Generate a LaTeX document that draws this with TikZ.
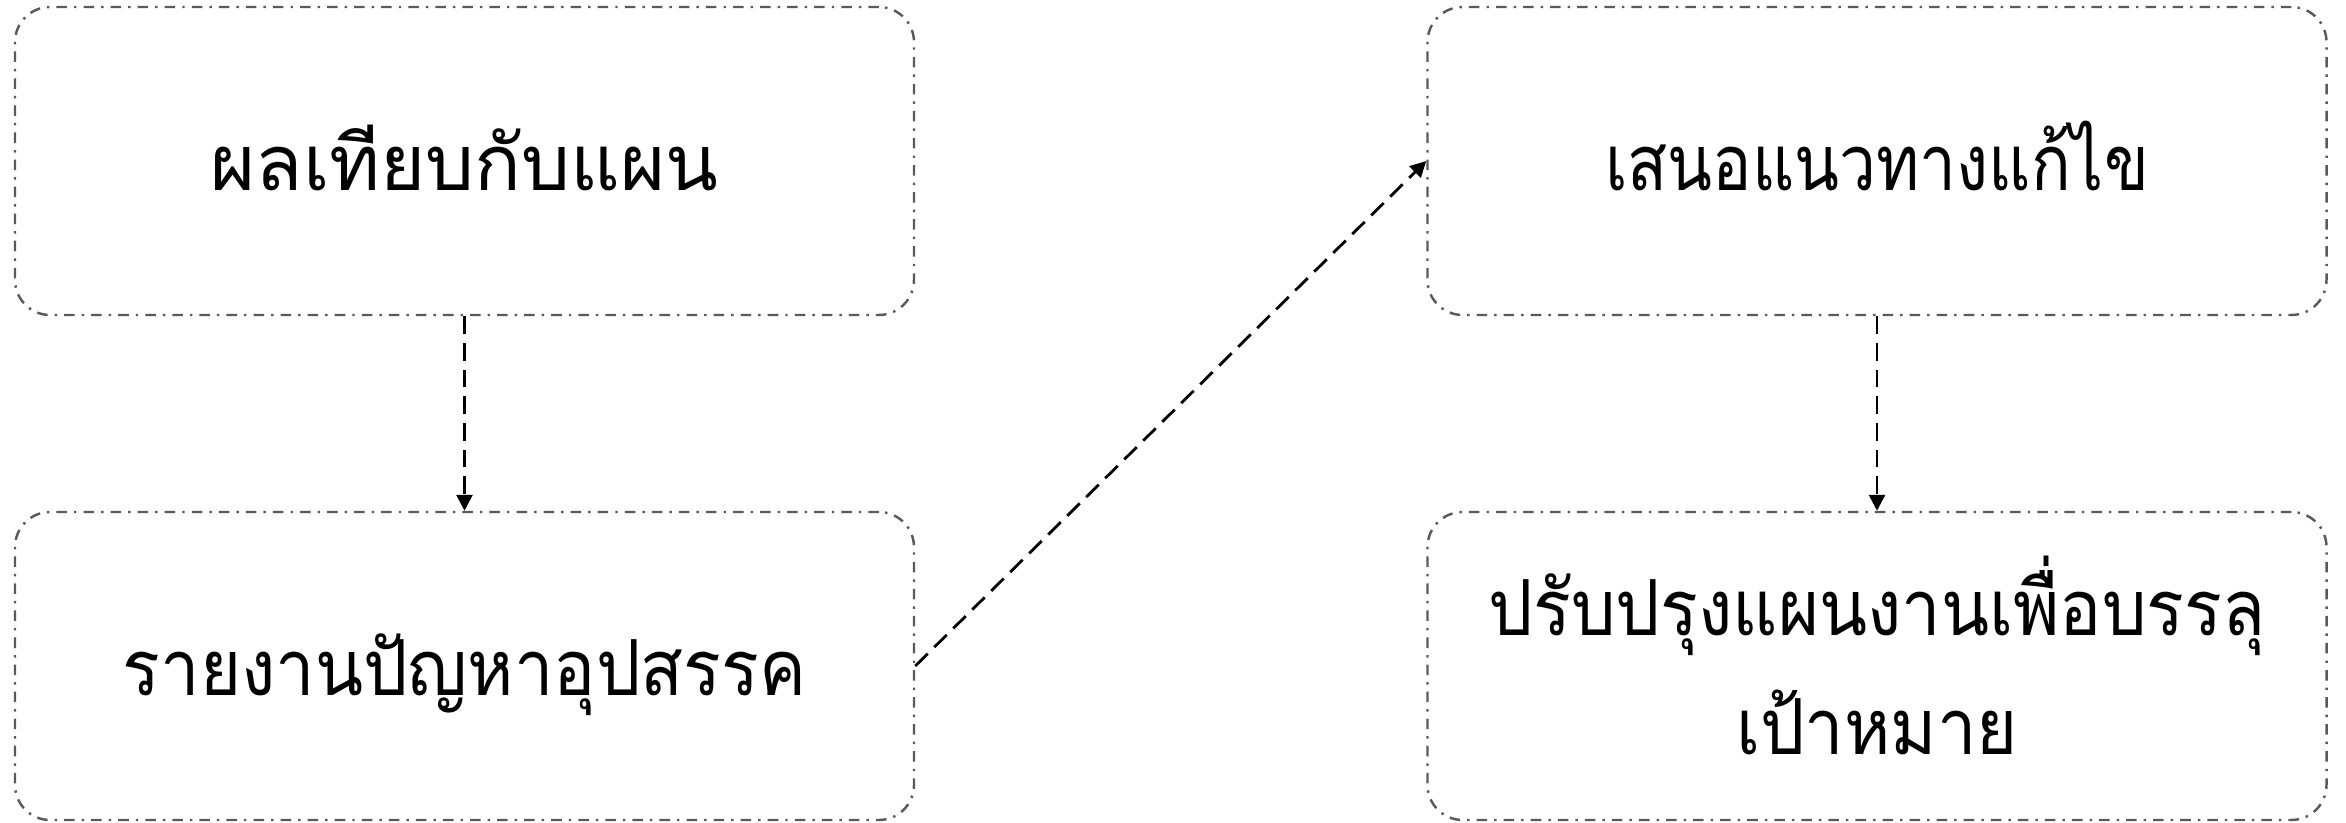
\documentclass[tikz,border=0pt]{standalone}
\usepackage{fontspec}
\newfontfamily\thaifont[Script=Thai]{Loma}
\newfontfamily\thaimid[Script=Thai,FakeStretch=0.91]{Loma}
\newfontfamily\thainarrow[Script=Thai,FakeStretch=0.85]{Loma}
\usetikzlibrary{arrows.meta}
\definecolor{boxgray}{RGB}{90,90,90}

\begin{document}
\begin{tikzpicture}[
    stepbox/.style={draw=boxgray, line width=0.7pt,
      dash pattern=on 3pt off 2pt on 0.7pt off 2pt,
      rounded corners=10pt, minimum width=8.99cm, minimum height=3.08cm,
      align=center, text height=0.8cm, text depth=0.2cm,
      font=#1\fontsize{22}{34}\selectfont},
    stepbox/.default=\thaifont,
    flow/.style={-{Triangle[length=4.5pt,width=4.5pt]}, line width=0.8pt,
      dash pattern=on 5pt off 2.6pt}
  ]
  \useasboundingbox (0,0) rectangle (23.46,8.23);

  % Left column
  \node[stepbox] (compare) at (4.645,6.62) {ผลเทียบกับแผน};
  \node[stepbox=\thaimid] (problems) at (4.645,1.57) {รายงานปัญหาอุปสรรค};

  % Right column
  \node[stepbox=\thainarrow] (solution) at (18.77,6.62) {เสนอแนวทางแก้ไข};
  \node[stepbox=\thaimid, text height=1.98cm] (improve) at (18.77,1.57)
    {ปรับปรุงแผนงานเพื่อบรรลุ\\เป้าหมาย};

  % Arrows
  \draw[flow] (compare) -- (problems);
  \draw[flow] (problems.east) -- (solution.west);
  \draw[flow] (solution) -- (improve);
\end{tikzpicture}
\end{document}
